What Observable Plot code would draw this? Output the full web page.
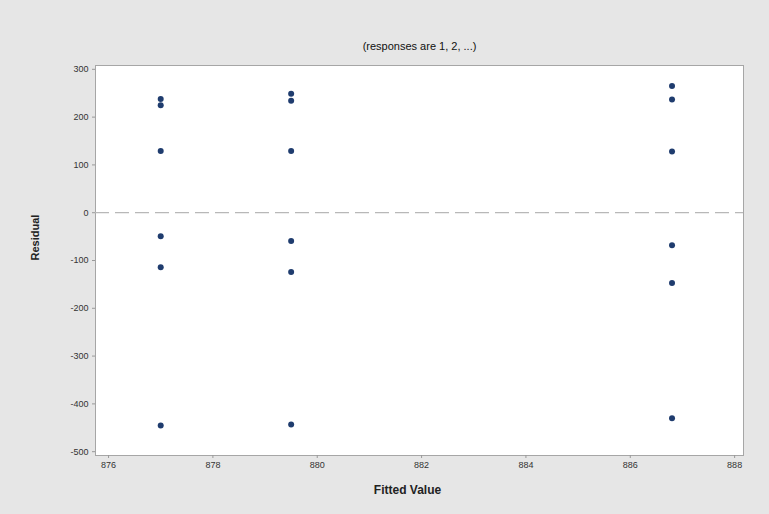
<!DOCTYPE html>
<html>
<head>
<meta charset="utf-8">
<script src="https://cdn.jsdelivr.net/npm/d3@7"></script>
<script src="https://cdn.jsdelivr.net/npm/@observablehq/plot@0.6"></script>
<style>
  html, body { margin: 0; padding: 0; background: #f2f2f2; }
  #wrap { position: absolute; left: 0; top: 0; width: 769px; height: 514px; }
  svg { display: block; }
</style>
</head>
<body>
<div id="wrap"></div>
<script>
const title = "(responses are 1, 2, ...)";
const xLabel = "Fitted Value";
const yLabel = "Residual";
const fitted = [877.0, 877.0, 877.0, 877.0, 877.0, 877.0,
                879.5, 879.5, 879.5, 879.5, 879.5, 879.5,
                886.8, 886.8, 886.8, 886.8, 886.8, 886.8];
const residual = [238, 225, 129, -49, -114, -445,
                  249, 234, 129, -59, -124, -443,
                  265, 237, 128, -68, -147, -430];
const xTicks = [876, 878, 880, 882, 884, 886, 888];
const yTicks = [300, 200, 100, 0, -100, -200, -300, -400, -500];
const refLine = [0];

const data = fitted.map((f, i) => ({fitted: f, residual: residual[i]}));
const fmt = d => String(d);

const chart = Plot.plot({
  width: 769,
  height: 514,
  marginLeft: 95,
  marginRight: 26,
  marginTop: 65,
  marginBottom: 59,
  style: {background: "#e6e6e6", fontFamily: "Liberation Sans, Arial, sans-serif", fontSize: "9px", color: "#222"},
  x: {domain: [875.75, 888.17], ticks: xTicks, tickFormat: fmt, label: null},
  y: {domain: [-508, 308], ticks: yTicks, tickFormat: fmt, label: null},
  marks: [
    Plot.frame({fill: "white", stroke: "#a6a6a6"}),
    Plot.ruleY(refLine, {stroke: "#b8b8b8", strokeWidth: 1.2, strokeDasharray: "14,6"}),
    Plot.axisX({ticks: xTicks, tickFormat: fmt, tickSize: 3, tickPadding: 3, stroke: "#999", fill: "#333", label: null, fontSize: 9}),
    Plot.axisY({ticks: yTicks, tickFormat: fmt, tickSize: 3, tickPadding: 4, stroke: "#999", fill: "#333", label: null, fontSize: 9}),
    Plot.dot(data, {x: "fitted", y: "residual", r: 3, fill: "#1f3c6e", stroke: "none"}),
    Plot.text([title], {frameAnchor: "top", dy: -23, fontSize: 11, fill: "#111"}),
    Plot.text([xLabel], {frameAnchor: "bottom", dy: 38, dx: -12, fontSize: 12, fontWeight: "bold", fill: "#222"}),
    Plot.text([yLabel], {frameAnchor: "left", dx: -60, rotate: -90, fontSize: 11, fontWeight: "bold", fill: "#222"})
  ]
});
document.getElementById("wrap").appendChild(chart);
</script>
</body>
</html>
